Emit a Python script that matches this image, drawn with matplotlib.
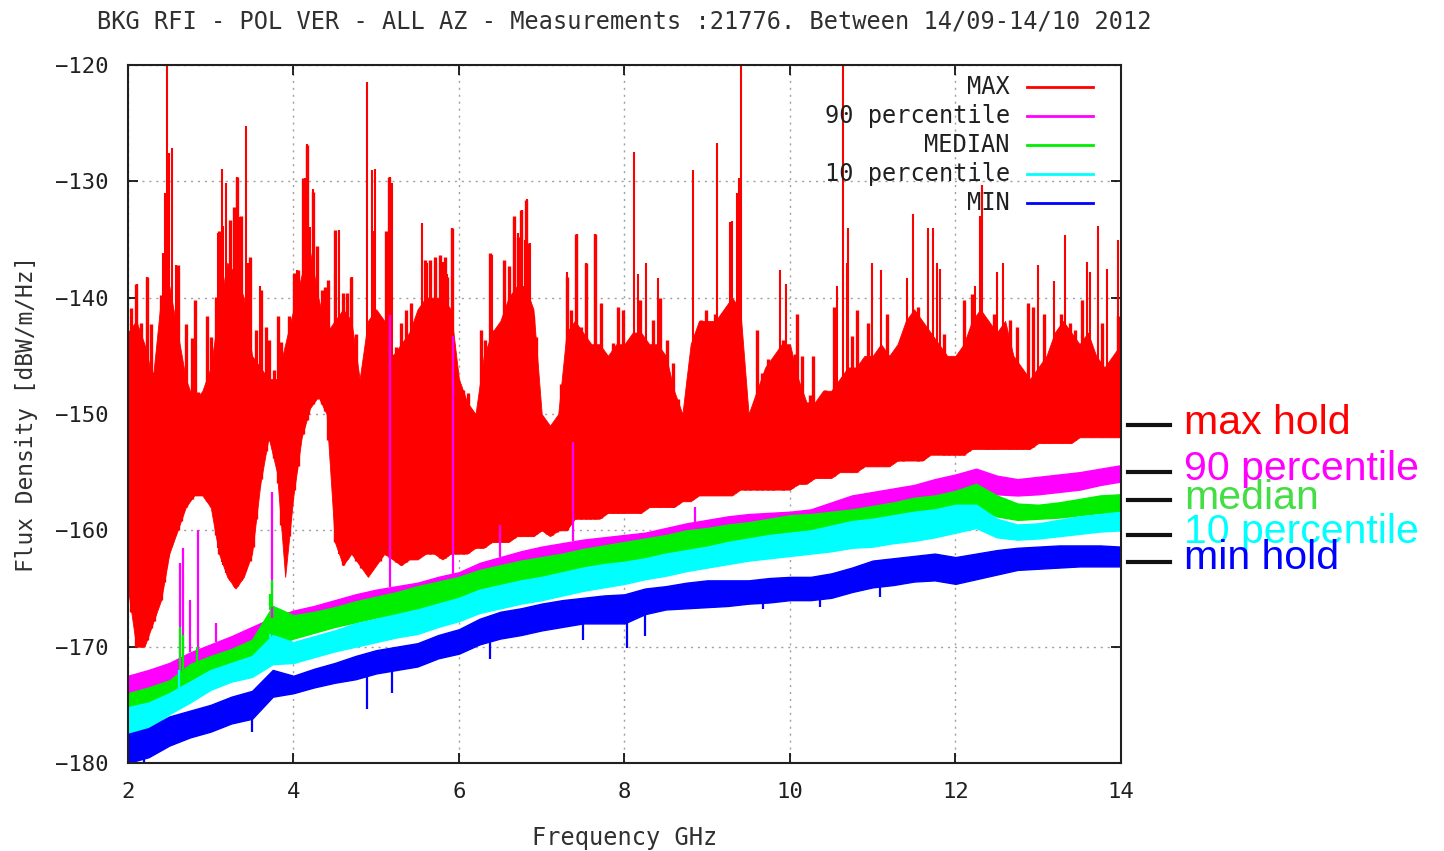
import matplotlib
matplotlib.use('Agg')
import matplotlib.pyplot as plt
import numpy as np

# ---------------------------------------------------------------
# Spectrum data [GHz, dBW/m/Hz]
# ---------------------------------------------------------------

# MAX hold: lower edge and top of the dense part, every 0.1 GHz
max_freq = np.linspace(2.0, 14.0, 121)
max_floor = [
    -165, -170, -170, -168, -166, -162, -160, -158, -157, -157,
    -158, -162, -164, -165, -164, -162, -156, -152, -155, -164,
    -157, -152, -149.5, -148.5, -150, -161, -163, -162, -163, -164,
    -163, -162, -162.5, -163, -162.5, -162.5, -162, -162, -162.5, -162,
    -162, -162, -161.5, -161.5, -161, -161, -161, -160.5, -160.5, -160.5,
    -160, -160.5, -160, -160, -159, -159, -159, -159, -158.5, -158.5,
    -158.5, -158.5, -158.5, -158, -158, -158, -158, -157.5, -157.5, -157,
    -157, -157, -157, -157, -156.5, -156.5, -156.5, -156.5, -156.5, -156.5,
    -156.5, -156, -156, -155.5, -155.5, -155.5, -155, -155, -155, -154.5,
    -154.5, -154.5, -154.5, -154, -154, -154, -154, -153.5, -153.5, -153.5,
    -153.5, -153.5, -153, -153, -153, -153, -153, -153, -153, -153,
    -152.5, -152.5, -152.5, -152.5, -152.5, -152, -152, -152, -152, -152,
    -152]
max_body = [
    -143, -142, -144, -147, -140, -139, -143, -147, -149, -148,
    -146, -141, -137, -138, -140, -145, -146, -147, -147, -144,
    -141, -138, -136, -140, -143, -142, -141, -142, -147, -142,
    -141, -142, -145, -144, -143, -141, -140, -140, -140, -141,
    -147, -149, -150, -145, -143, -142, -140, -139, -139, -141,
    -150, -151, -150, -143, -142, -143, -144, -144, -145, -144,
    -144, -143, -143, -144, -144, -145, -148, -150, -144, -142,
    -142, -142, -141, -140, -141, -150, -148, -146, -145, -144,
    -144, -147, -149, -149, -148, -148, -147, -146, -146, -145,
    -145, -144, -145, -144, -142, -141, -142, -143, -144, -145,
    -145, -144, -142, -141, -142, -143, -142, -145, -146, -147,
    -146, -145, -143, -142, -143, -144, -143, -145, -146, -145,
    -144]

# tall MAX spikes
tall_f = [2.109, 2.230, 2.423, 2.447, 2.471, 2.495, 2.532, 2.580,
          3.088, 3.136, 3.148, 3.184, 3.293, 3.317, 3.353, 3.426, 3.450, 3.595,
          4.042, 4.139, 4.163, 4.199, 4.236, 4.502, 4.550, 4.707,
          4.888, 4.949, 4.961, 4.985, 5.130, 5.166, 5.190,
          5.553, 5.613, 5.650, 5.722, 5.807, 5.855, 5.915,
          6.399, 6.556, 6.616, 6.665, 6.713, 6.761, 6.798, 6.822, 6.858,
          7.305, 7.426, 7.535, 7.644,
          8.115, 8.163, 8.260, 8.405,
          8.828, 9.118, 9.275, 9.299, 9.360, 9.384, 9.408,
          9.879, 9.952, 10.568, 10.640, 10.689, 10.701,
          10.991, 11.100, 11.414, 11.486, 11.668, 11.728, 11.776, 11.813,
          12.236, 12.296, 12.320, 12.502, 12.574,
          12.997, 13.190, 13.323, 13.589, 13.625, 13.722, 13.831, 13.964]
tall_v = [-138.8, -138.2, -136.2, -131.0, -120.0, -127.6, -127.1, -137.2,
          -134.4, -128.9, -133.8, -130.1, -132.3, -129.6, -133.1, -125.2, -137.0, -139.0,
          -137.6, -129.7, -126.8, -133.9, -130.7, -138.0, -134.2, -138.2,
          -121.5, -129.0, -134.3, -128.9, -134.4, -129.6, -130.1,
          -133.6, -137.0, -136.9, -137.0, -136.9, -138.0, -134.0,
          -136.3, -136.9, -137.6, -133.2, -134.4, -132.5, -135.0, -131.5, -135.3,
          -137.8, -134.5, -137.0, -134.5,
          -127.5, -138.0, -137.0, -138.3,
          -129.0, -126.7, -133.5, -133.4, -131.0, -129.7, -120.0,
          -137.6, -138.8, -139.0, -120.0, -137.0, -134.0,
          -137.0, -137.6, -138.3, -132.8, -134.0, -134.0, -137.0, -137.5,
          -139.0, -133.0, -130.3, -137.8, -137.0,
          -137.2, -138.6, -134.6, -136.9, -137.8, -133.8, -137.5, -135.0]

# shorter MAX spikes in the dense forest
mid_f = [2.04, 2.10, 2.16, 2.23, 2.28, 2.31, 2.40, 2.44, 2.60, 2.64,
         2.70, 2.77, 2.81, 2.85, 2.89, 2.95, 3.00, 3.06, 3.10, 3.23,
         3.28, 3.32, 3.37, 3.47, 3.51, 3.55, 3.61, 3.67, 3.71, 3.76,
         3.81, 3.85, 3.95, 4.01, 4.05, 4.11, 4.16, 4.18, 4.24, 4.28,
         4.34, 4.38, 4.42, 4.50, 4.60, 4.65, 4.70, 4.76, 4.82, 5.04,
         5.12, 5.16, 5.24, 5.30, 5.36, 5.42, 5.46, 5.59, 5.65, 5.71,
         5.77, 5.83, 5.86, 5.92, 5.97, 6.05, 6.11, 6.19, 6.27, 6.31,
         6.38, 6.42, 6.46, 6.55, 6.61, 6.67, 6.71, 6.75, 6.81, 6.84,
         6.89, 6.93, 6.99, 7.06, 7.12, 7.18, 7.23, 7.30, 7.36, 7.42,
         7.48, 7.54, 7.58, 7.64, 7.72, 7.80, 7.86, 7.92, 7.98, 8.19,
         8.35, 8.43, 8.51, 8.59, 8.65, 8.71, 8.77, 8.92, 8.98, 9.04,
         9.10, 9.22, 9.46, 9.52, 9.60, 9.66, 9.74, 9.80, 9.92, 10.02,
         10.06, 10.08, 10.14, 10.24, 10.28, 10.34, 10.42, 10.53, 10.75, 10.81,
         10.87, 10.94, 11.05, 11.17, 11.25, 11.31, 11.37, 11.55, 11.61, 11.86,
         11.92, 11.98, 12.04, 12.10, 12.16, 12.20, 12.38, 12.46, 12.66, 12.74,
         12.80, 12.88, 12.94, 13.07, 13.13, 13.27, 13.39, 13.45, 13.53, 13.65,
         13.77, 13.85, 13.91, 13.97]
mid_v = [-140.9, -138.8, -142.2, -138.2, -142.3, -146.4, -139.8, -136.2, -137.2, -145.8,
         -142.3, -143.5, -140.2, -148.1, -148.2, -141.6, -143.4, -139.9, -134.3, -133.3,
         -132.2, -129.6, -133.0, -136.5, -148.5, -142.8, -139.3, -142.5, -143.6, -146.2,
         -141.6, -143.8, -141.6, -137.9, -137.6, -129.7, -126.9, -133.9, -130.9, -135.6,
         -139.3, -139.1, -138.5, -134.2, -139.6, -139.6, -138.2, -143.1, -148.2, -148.2,
         -134.3, -129.6, -144.2, -142.2, -141.1, -140.5, -142.5, -136.8, -136.8, -136.5,
         -136.3, -136.5, -138.2, -134.0, -146.8, -147.9, -148.2, -149.9, -142.8, -143.6,
         -136.2, -142.8, -148.2, -136.8, -137.3, -133.0, -134.8, -132.5, -131.6, -135.3,
         -141.6, -143.4, -151.9, -151.7, -151.1, -152.5, -147.4, -138.2, -141.1, -134.5,
         -142.5, -137.0, -148.2, -134.5, -140.5, -145.6, -143.9, -140.8, -141.1, -140.2,
         -141.9, -140.0, -143.6, -145.6, -148.7, -152.7, -147.0, -141.9, -141.1, -144.2,
         -141.4, -142.8, -148.7, -153.3, -142.8, -146.5, -145.3, -148.4, -143.6, -145.6,
         -144.8, -141.4, -145.0, -148.4, -145.0, -149.9, -147.9, -140.8, -143.3, -141.1,
         -149.9, -142.2, -145.3, -141.4, -145.0, -147.9, -145.0, -140.8, -145.6, -143.1,
         -145.6, -148.7, -145.9, -140.2, -144.8, -139.7, -142.5, -141.4, -141.9, -142.5,
         -151.8, -140.5, -140.8, -141.4, -149.0, -141.4, -142.2, -142.8, -140.2, -147.6,
         -142.2, -145.6, -145.9, -141.6]

# percentile / min bands: upper and lower edge, every 0.25 GHz
band_freq = np.linspace(2.0, 14.0, 49)
p90_hi = [-172.5, -172, -171.4, -170.5, -169.8, -169.1, -168.3, -167.5, -166.9, -166.5,
          -166, -165.5, -165.1, -164.8, -164.5, -164, -163.6, -162.8, -162.3, -161.8,
          -161.4, -161.1, -160.8, -160.6, -160.4, -160.2, -159.8, -159.4, -159.1, -158.8,
          -158.6, -158.5, -158.4, -158.2, -157.6, -157, -156.7, -156.4, -156.1, -155.6,
          -155.2, -154.7, -155.3, -155.6, -155.4, -155.2, -155, -154.7, -154.4]
p90_lo = [-174.5, -174, -172.9, -172, -171.2, -170.6, -169.9, -169, -168.6, -168.1,
          -167.7, -167.2, -166.8, -166.5, -166.2, -165.4, -165, -164.3, -163.9, -163.4,
          -163.1, -162.7, -162.4, -162.1, -161.9, -161.6, -161.2, -160.9, -160.6, -160.4,
          -160.2, -160, -159.9, -159.6, -159.1, -158.6, -158.3, -158, -157.8, -157.3,
          -156.9, -156.6, -156.9, -157, -156.9, -156.7, -156.5, -156.1, -155.8]
med_hi = [-174, -173.5, -172.9, -171.5, -170.8, -170.2, -169.4, -166.5, -167.3, -167,
          -166.6, -166.1, -165.7, -165.3, -164.8, -164.4, -164, -163.4, -163, -162.6,
          -162.3, -162, -161.6, -161.3, -161, -160.7, -160.4, -160, -159.8, -159.5,
          -159.3, -159, -158.7, -158.6, -158.4, -158.2, -157.9, -157.6, -157.2, -157,
          -156.6, -156, -157, -157.7, -157.8, -157.6, -157.3, -157, -156.9]
med_lo = [-176, -175.5, -174.6, -173.5, -172.6, -172, -171.2, -170, -169.3, -168.8,
          -168.3, -167.9, -167.5, -167.2, -166.8, -166.4, -166, -165.4, -165, -164.6,
          -164.3, -163.9, -163.6, -163.2, -162.9, -162.5, -162.2, -162, -161.6, -161.3,
          -161, -160.8, -160.6, -160.4, -160.2, -160, -159.8, -159.5, -159.2, -158.9,
          -158.4, -158, -158.8, -159.1, -159, -158.9, -158.7, -158.5, -158.4]
p10_hi = [-175.2, -174.8, -174, -173, -172, -171.4, -170.8, -169, -169.6, -169.1,
          -168.6, -168, -167.6, -167.2, -166.8, -166.3, -165.8, -165.1, -164.7, -164.3,
          -164, -163.6, -163.2, -162.9, -162.7, -162.4, -162, -161.7, -161.4, -161,
          -160.7, -160.4, -160.2, -160, -159.6, -159.2, -159, -158.7, -158.4, -158.2,
          -157.8, -157.8, -159, -159.5, -159.4, -159.1, -158.8, -158.6, -158.4]
p10_lo = [-177.6, -177, -175.8, -174.8, -173.7, -173, -172.6, -171.5, -171.4, -170.9,
          -170.4, -170, -169.6, -169.2, -168.9, -168.3, -167.8, -167.1, -166.7, -166.3,
          -166, -165.6, -165.2, -164.9, -164.6, -164.2, -163.9, -163.5, -163.2, -162.9,
          -162.6, -162.4, -162.2, -162, -161.8, -161.5, -161.4, -161.1, -160.9, -160.6,
          -160.2, -159.8, -160.6, -160.8, -160.7, -160.5, -160.3, -160.1, -160]
min_hi = [-177.5, -177, -176, -175.5, -175, -174.3, -173.8, -172, -172.5, -171.9,
          -171.4, -170.8, -170.3, -170, -169.7, -169, -168.5, -167.6, -167, -166.7,
          -166.3, -166, -165.8, -165.6, -165.5, -165, -164.8, -164.5, -164.3, -164.3,
          -164.3, -164.1, -164, -164, -163.7, -163.2, -162.6, -162.4, -162.2, -162,
          -162.3, -162, -161.7, -161.5, -161.4, -161.3, -161.3, -161.3, -161.4]
min_lo = [-180, -179.5, -178.5, -177.8, -177.3, -176.6, -176.2, -174.3, -174, -173.5,
          -173.1, -172.8, -172.3, -172, -171.7, -171, -170.6, -169.8, -169.3, -169,
          -168.6, -168.3, -168, -168, -168, -167.2, -166.8, -166.7, -166.6, -166.5,
          -166.3, -166.2, -166, -166, -165.8, -165.3, -164.9, -164.7, -164.4, -164.3,
          -164.6, -164.2, -163.8, -163.4, -163.3, -163.2, -163.1, -163.1, -163.1]

# narrow features on the percentile traces
p90_spike_f = [2.63, 2.66, 2.75, 2.85, 3.07, 3.74, 5.17, 5.93, 6.50, 7.38, 8.85]
p90_spike_v = [-162.8, -161.5, -166.0, -160.0, -168.0, -156.7, -141.5, -143.3, -159.5, -152.4, -158.0]
med_spike_f = [2.63, 2.66, 2.83, 3.72, 3.74]
med_spike_v = [-168.3, -169.0, -170.0, -165.5, -164.3]
p10_spike_f = [2.62, 3.72]
p10_spike_v = [-172.0, -168.9]
min_dip_f = [2.19, 2.83, 3.50, 4.89, 5.19, 6.37, 7.50, 8.03, 8.25, 9.68, 10.36, 11.09]
min_dip_v = [-180.0, -177.7, -177.3, -175.4, -174.0, -171.1, -169.4, -170.1, -169.1, -166.8, -166.6, -165.7]

# legend and side labels
legend_names = ['MAX', '90 percentile', 'MEDIAN', '10 percentile', 'MIN']
side_names = ['max hold', '90 percentile', 'median', '10 percentile', 'min hold']
colors = ['#ff0000', '#ff00ff', '#00ee00', '#00ffff', '#0000ff']
side_colors = ['#ff0000', '#ff00ff', '#44dd44', '#00ffff', '#0000ff']

MONO = 'DejaVu Sans Mono'

# ---------------------------------------------------------------
fig = plt.figure(figsize=(14.44, 8.51), dpi=100)
ax = fig.add_axes([0.0886, 0.1034, 0.6877, 0.8202])

# MAX hold: dense block plus spikes
ax.fill_between(max_freq, max_floor, max_body, color=colors[0], lw=0.6, edgecolor=colors[0])
ax.vlines(tall_f, np.interp(tall_f, max_freq, max_floor), tall_v, color=colors[0], lw=1.5)
ax.vlines(mid_f, np.interp(mid_f, max_freq, max_floor), mid_v, color=colors[0], lw=2.4)


def band(lo, hi, col):
    ax.fill_between(band_freq, lo, hi, color=col, lw=1.0, edgecolor=col)


band(p90_lo, p90_hi, colors[1])
ax.vlines(p90_spike_f, np.interp(p90_spike_f, band_freq, p90_hi), p90_spike_v, color=colors[1], lw=1.6)
band(med_lo, med_hi, colors[2])
ax.vlines(med_spike_f, np.interp(med_spike_f, band_freq, med_hi), med_spike_v, color=colors[2], lw=1.6)
band(p10_lo, p10_hi, colors[3])
ax.vlines(p10_spike_f, np.interp(p10_spike_f, band_freq, p10_hi), p10_spike_v, color=colors[3], lw=1.6)
band(min_lo, min_hi, colors[4])
ax.vlines(min_dip_f, min_dip_v, np.interp(min_dip_f, band_freq, min_lo), color=colors[4], lw=1.6)

# axes
ax.set_xlim(2, 14)
ax.set_ylim(-180, -120)
ax.set_xticks(range(2, 15, 2))
ax.set_yticks(range(-180, -119, 10))
ax.grid(True, color='#a0a0a0', linestyle=(0, (1.5, 3.5)), lw=1.0)
ax.set_axisbelow(True)
ax.tick_params(direction='in', length=7, width=1.2, top=True, right=True, labelsize=16, pad=14)
for lab in ax.get_xticklabels() + ax.get_yticklabels():
    lab.set_family(MONO)
    lab.set_color('#202020')
for s in ax.spines.values():
    s.set_linewidth(1.5)
    s.set_color('#202020')

ax.set_title('BKG RFI - POL VER - ALL AZ - Measurements :21776. Between 14/09-14/10 2012',
             family=MONO, fontsize=17, color='#303030', pad=26)
ax.set_xlabel('Frequency GHz', family=MONO, fontsize=17, color='#303030', labelpad=17)
ax.set_ylabel('Flux Density [dBW/m/Hz]', family=MONO, fontsize=16.5, color='#303030', labelpad=12)

# key in top right corner: text right aligned, sample line to its right
for i, (name, col) in enumerate(zip(legend_names, colors)):
    yy = 0.9685 - i * 0.0416
    ax.text(0.888, yy, name, transform=ax.transAxes, ha='right', va='center',
            family=MONO, fontsize=17, color='#202020')
    ax.plot([0.905, 0.972], [yy, yy], transform=ax.transAxes, color=col, lw=2, clip_on=False)

# labels at the right of the frame
side_y = [425, 472, 500, 535, 562]
text_y = [423, 469, 498, 532, 558]
for name, col, ly, ty in zip(side_names, side_colors, side_y, text_y):
    fy = 1 - ly / 851
    fig.add_artist(plt.Line2D([1128 / 1444, 1170 / 1444], [fy, fy], color='#111111', lw=3))
    fig.text(1184 / 1444, 1 - ty / 851, name, ha='left', va='center',
             family='Liberation Sans', fontsize=29.5, color=col)

fig.savefig('out.png', dpi=100)
